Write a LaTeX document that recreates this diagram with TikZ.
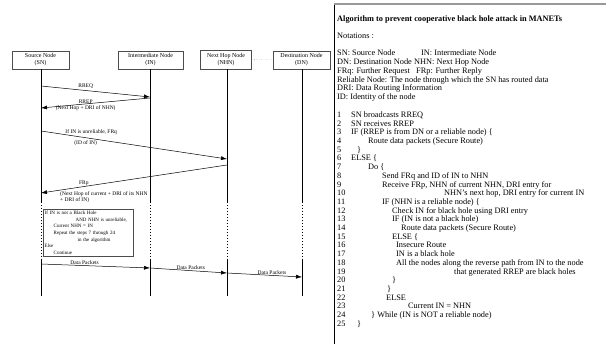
\documentclass[tikz,border=0pt]{standalone}
\usepackage{fontspec}
\setmainfont{Liberation Serif}
\usetikzlibrary{arrows.meta}

\tikzset{
    ent/.style={
        draw=black!70,
        line width=.6pt,
        minimum width=57pt,
        minimum height=18pt,
        inner sep=1pt,
        align=center,
        font=\fontsize{6}{7}\selectfont
    },
    life/.style={line width=1pt},
    msg/.style={-{Latex[length=6pt,width=4pt]}, line width=.5pt},
    lbl/.style={inner sep=0pt, font=\fontsize{5.5}{6.5}\selectfont},
    code/.style={anchor=base west, inner sep=0pt, font=\fontsize{8.3}{8.7}\selectfont}
}

\begin{document}
\begin{tikzpicture}[x=1pt,y=-1pt]
\useasboundingbox (0,0) rectangle (606,344);
		% entities
		\path
			node[ent] at (40.5,60) (sn) {Source Node\\(SN)}
			node[ent, minimum width=65pt] at (150.5,60) (in) {Intermediate Node\\(IN)}
			node[ent, minimum width=51pt, minimum height=19pt] at (226,59.5) (nhn) {Next Hop Node\\(NHN)}
			node[ent] at (301.5,60) (dn) {Destination Node\\(DN)}
			;
		\draw[dotted, black!60] (nhn) -- (dn);

		% lifelines
		\path
			(41,202) coordinate (sn-d1) (41,259) coordinate (sn-d2) (41,296) coordinate (sn-end)
			(150,202) coordinate (in-d1) (150,259) coordinate (in-d2) (150,296) coordinate (in-end)
			(227,202) coordinate (nhn-d1) (227,259) coordinate (nhn-d2) (227,296) coordinate (nhn-end)
			(302,202) coordinate (dn-d1) (302,259) coordinate (dn-d2) (302,296) coordinate (dn-end)
			;
		\draw[life] (sn.south -| sn-d1) -- (sn-d1) (sn-d2) -- (sn-end);
		\draw[life] (in.south -| in-d1) -- (in-d1) (in-d2) -- (in-end);
		\draw[life, line width=.8pt] (nhn.south -| nhn-d1) -- (nhn-d1) (nhn-d2) -- (nhn-end);
		\draw[life, line width=.8pt] (dn.south -| dn-d1) -- (dn-d1) (dn-d2) -- (dn-end);
		\draw[life, dotted] (sn-d1) -- (sn-d2) (in-d1) -- (in-d2)
			(nhn-d1) -- (nhn-d2) (dn-d1) -- (dn-d2);

		% message points
		\path
			(41,86) coordinate (sn1) (150,97) coordinate (in1)
			(150,98) coordinate (in2) (41,108) coordinate (sn2)
			(41,131) coordinate (sn3) (227,159) coordinate (nhn1)
			(227,165) coordinate (nhn2) (41,193) coordinate (sn4)
			(41,264) coordinate (sn5) (150,268) coordinate (in3)
			(227,273) coordinate (nhn3) (302,277) coordinate (dn1)
			;
		\draw[msg] (sn1) -- (in1) node[lbl, pos=.41, above=2pt] (rreq) {RREQ};
		\draw[msg] (in2) -- (sn2) node[lbl, pos=.59, above=.5pt] (rrep) {RREP}
			node[lbl, pos=.59, below=1pt] (rrepinfo) {(Next Hop + DRI of NHN)};
		\draw[msg] (sn3) -- (nhn1) node[lbl, pos=.27, above=4pt] (frq) {If IN is unreliable, FRq}
			node[lbl, pos=.24, below=3pt] (frqinfo) {(ID of IN)};
		\draw[msg] (nhn2) -- (sn4) node[lbl, pos=.77, above=1pt] (frp) {FRp};
		\node[lbl, anchor=north west, align=left] at (60,191) (frpinfo)
			{(Next Hop of current + DRI of its NHN\\+ DRI of IN)};

		% condition box
		\node[draw=black!70, line width=.5pt, anchor=north west, align=left, text width=87pt,
			minimum height=47pt, inner xsep=1.5pt, inner ysep=1pt,
			font=\fontsize{5}{6.6}\selectfont] at (43,209) (cond)
			{If IN is not a Black Hole\\
			\hspace*{31pt}AND NHN is unreliable,\\
			\hspace*{9pt}Current NHN = IN\\
			\hspace*{9pt}Repeat the steps 7 through 24\\
			\hspace*{33pt}in the algorithm\\
			Else\\
			\hspace*{9pt}Continue};

		\draw[msg] (sn5) -- (in3) node[lbl, pos=.4, above=.5pt] (data1) {Data Packets};
		\draw[msg] (in3) -- (nhn3) node[lbl, pos=.53, above=.5pt] (data2) {Data Packets};
		\draw[msg] (nhn3) -- (dn1) node[lbl, pos=.6, above=.5pt] (data3) {Data Packets};

		% algorithm panel
		\draw[line width=.6pt] (334,344) -- (334,5);
		\draw[black!40, line width=2pt] (334,4.5) -- (606,4.5);
		\path
			node[code, font=\fontsize{8.3}{8.7}\selectfont\bfseries] at (337,22) (title)
				{Algorithm to prevent cooperative black hole attack in MANETs}
			node[code] at (337,38.5) (notes) {Notations :}
			node[code] at (337,55.5) (d1) {SN: Source Node}
			node[code] at (421,55.5) (d2) {IN: Intermediate Node}
			node[code] at (337,64.5) (d3) {DN: Destination Node}
			node[code] at (414,64.5) (d4) {NHN: Next Hop Node}
			node[code] at (337,73.5) (d5) {FRq: Further Request}
			node[code] at (416,73.5) (d6) {FRp: Further Reply}
			node[code] at (337,82.5) (d7) {Reliable Node: The node through which the SN has routed data}
			node[code] at (337,91) (d8) {DRI: Data Routing Information}
			node[code] at (337,100) (d9) {ID: Identity of the node}
			;
		\foreach \n in {1,...,25}
			\node[code] (num\n) at (337,{117.5+(\n-1)*8.7}) {\n};
		\path
			node[code] at (351,117.5) (c1) {SN broadcasts RREQ}
			node[code] at (351,126.2) (c2) {SN receives RREP}
			node[code] at (351,134.9) (c3) {IF (RREP is from DN or a reliable node) \{}
			node[code] at (368,143.6) (c4) {Route data packets (Secure Route)}
			node[code] at (357,152.3) (c5) {\}}
			node[code] at (351,161.0) (c6) {ELSE \{}
			node[code] at (368,169.7) (c7) {Do \{}
			node[code] at (382,178.4) (c8) {Send FRq and ID of IN to NHN}
			node[code] at (382,187.1) (c9) {Receive FRp, NHN of current NHN, DRI entry for}
			node[code] at (444,195.8) (c10) {NHN's next hop, DRI entry for current IN}
			node[code] at (382,204.5) (c11) {IF (NHN is a reliable node) \{}
			node[code] at (392,213.2) (c12) {Check IN for black hole using DRI entry}
			node[code] at (392,221.9) (c13) {IF (IN is not a black hole)}
			node[code] at (401,230.6) (c14) {Route data packets (Secure Route)}
			node[code] at (392,239.3) (c15) {ELSE \{}
			node[code] at (396,248.0) (c16) {Insecure Route}
			node[code] at (396,256.7) (c17) {IN is a black hole}
			node[code] at (396,265.4) (c18) {All the nodes along the reverse path from IN to the node}
			node[code] at (454,274.1) (c19) {that generated RREP are black holes}
			node[code] at (392,282.8) (c20) {\}}
			node[code] at (387,291.5) (c21) {\}}
			node[code] at (386,300.2) (c22) {ELSE}
			node[code] at (408,308.9) (c23) {Current IN = NHN}
			node[code] at (371,317.6) (c24) {\} While (IN is NOT a reliable node)}
			node[code] at (357,326.3) (c25) {\}}
			;
\end{tikzpicture}
\end{document}
